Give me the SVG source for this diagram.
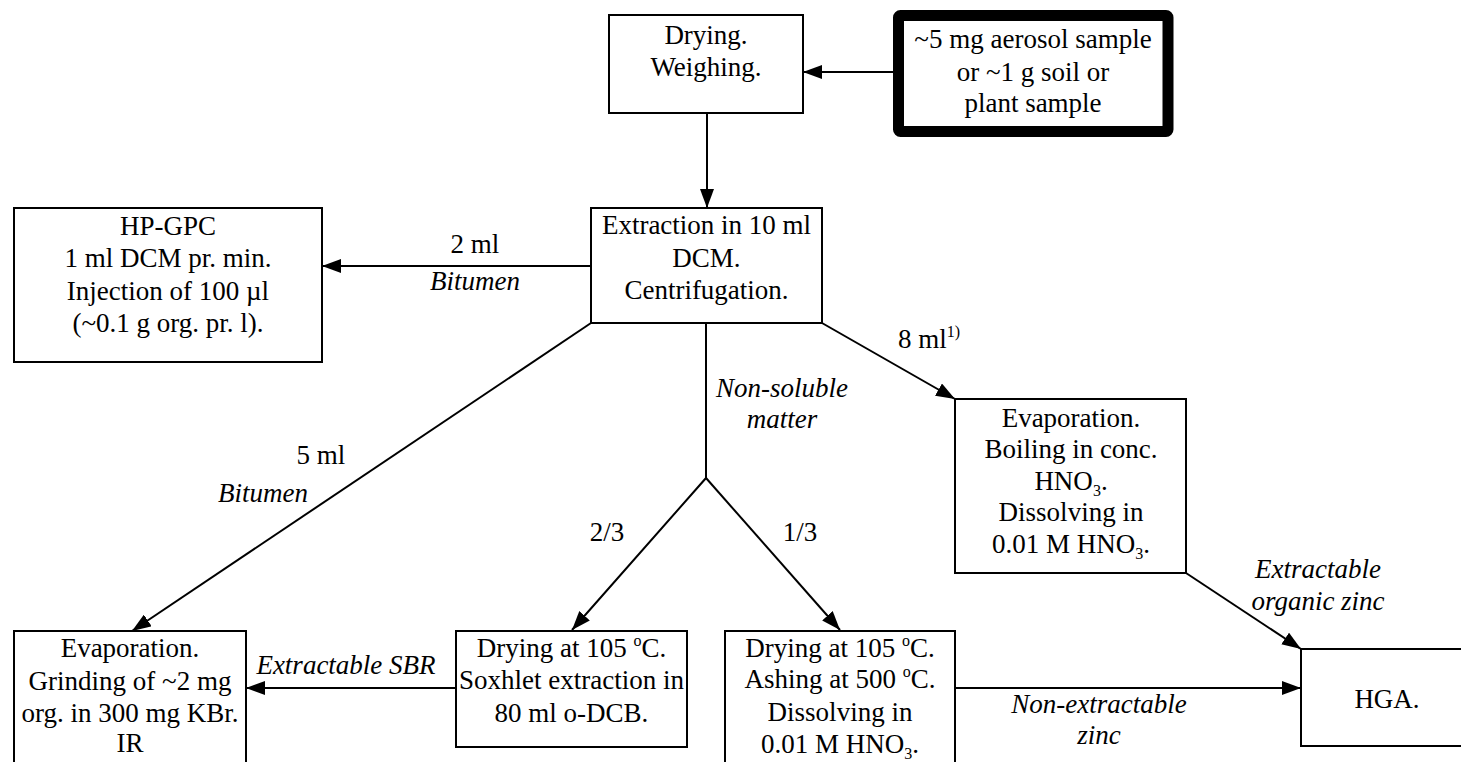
<svg xmlns="http://www.w3.org/2000/svg" width="1461" height="762" viewBox="0 0 1461 762">
<style>
text{font-family:"Liberation Serif","Times New Roman",serif;font-size:27px;fill:#000;text-anchor:middle}
.i{font-style:italic}
.box{fill:#fff;stroke:#000;stroke-width:2}
.thick{fill:#fff;stroke:#000;stroke-width:11;stroke-linejoin:round}
.c{fill:none;stroke:#000;stroke-width:2}
.sup{font-size:16px}
</style>
<defs>
<marker id="ah" markerUnits="userSpaceOnUse" markerWidth="19" markerHeight="14" refX="19" refY="7" orient="auto">
<path d="M0,0 L19,7 L0,14 z" fill="#000"/>
</marker>
</defs>
<rect width="1461" height="762" fill="#fff"/>
<g id="connectors">
<path class="c" d="M893,72 L803,72" marker-end="url(#ah)"/>
<path class="c" d="M707,113 L707,208" marker-end="url(#ah)"/>
<path class="c" d="M591,266 L322,266" marker-end="url(#ah)"/>
<path class="c" d="M591,323 L132,631" marker-end="url(#ah)"/>
<path class="c" d="M822,323 L955,399" marker-end="url(#ah)"/>
<path class="c" d="M706,323 L706,478 L572,630" marker-end="url(#ah)"/>
<path class="c" d="M706,478 L840,630" marker-end="url(#ah)"/>
<path class="c" d="M456,688 L246,688" marker-end="url(#ah)"/>
<path class="c" d="M955,688 L1301,688" marker-end="url(#ah)"/>
<path class="c" d="M1186,573 L1301,649" marker-end="url(#ah)"/>
<text x="475" y="253">2 ml</text>
<text class="i" x="475" y="290">Bitumen</text>
<text x="321" y="464">5 ml</text>
<text class="i" x="263" y="502">Bitumen</text>
<text class="i" x="782" y="397">Non-soluble</text>
<text class="i" x="782" y="428">matter</text>
<text x="898" y="348" style="text-anchor:start">8 ml<tspan class="sup" dy="-11">1)</tspan></text>
<text x="607" y="541">2/3</text>
<text x="800" y="541">1/3</text>
<text class="i" x="346" y="674">Extractable SBR</text>
<text class="i" x="1318" y="578">Extractable</text>
<text class="i" x="1318" y="610">organic zinc</text>
<text class="i" x="1099" y="713">Non-extractable</text>
<text class="i" x="1099" y="744">zinc</text>
</g>
<g id="sample">
<rect class="thick" x="898.5" y="15.5" width="269.5" height="116" rx="2"/>
<text x="1033" y="48">~5 mg aerosol sample</text>
<text x="1033" y="81">or ~1 g soil or</text>
<text x="1033" y="112">plant sample</text>
</g>
<g id="drying">
<rect class="box" x="609" y="15" width="194" height="98"/>
<text x="706" y="44">Drying.</text>
<text x="706" y="76">Weighing.</text>
</g>
<g id="extraction">
<rect class="box" x="591" y="208" width="231" height="115"/>
<text x="706.5" y="234">Extraction in 10 ml</text>
<text x="706.5" y="267">DCM.</text>
<text x="706.5" y="299">Centrifugation.</text>
</g>
<g id="hpgpc">
<rect class="box" x="14" y="208" width="308" height="154"/>
<text x="168" y="235">HP-GPC</text>
<text x="168" y="267">1 ml DCM pr. min.</text>
<text x="168" y="300">Injection of 100 µl</text>
<text x="168" y="332">(~0.1 g org. pr. l).</text>
</g>
<g id="evap-right">
<rect class="box" x="955" y="399" width="231" height="174"/>
<text x="1071" y="427">Evaporation.</text>
<text x="1071" y="458">Boiling in conc.</text>
<text x="1071" y="490">HNO<tspan class="sup" dy="6">3</tspan><tspan dy="-6">.</tspan></text>
<text x="1071" y="521">Dissolving in</text>
<text x="1071" y="553">0.01 M HNO<tspan class="sup" dy="6">3</tspan><tspan dy="-6">.</tspan></text>
</g>
<g id="evap-ir">
<rect class="box" x="14" y="631" width="232" height="150"/>
<text x="130" y="657">Evaporation.</text>
<text x="130" y="690">Grinding of ~2 mg</text>
<text x="130" y="722">org. in 300 mg KBr.</text>
<text x="130" y="752">IR</text>
</g>
<g id="soxhlet">
<rect class="box" x="456" y="631" width="231" height="116"/>
<text x="571.5" y="657">Drying at 105 <tspan class="sup" dy="-11">o</tspan><tspan dy="11">C.</tspan></text>
<text x="571.5" y="689">Soxhlet extraction in</text>
<text x="571.5" y="722">80 ml o-DCB.</text>
</g>
<g id="ashing">
<rect class="box" x="725" y="631" width="230" height="150"/>
<text x="840" y="657">Drying at 105 <tspan class="sup" dy="-11">o</tspan><tspan dy="11">C.</tspan></text>
<text x="840" y="688">Ashing at 500 <tspan class="sup" dy="-11">o</tspan><tspan dy="11">C.</tspan></text>
<text x="840" y="721">Dissolving in</text>
<text x="840" y="753">0.01 M HNO<tspan class="sup" dy="6">3</tspan><tspan dy="-6">.</tspan></text>
</g>
<g id="hga">
<rect class="box" x="1301" y="649" width="175" height="97"/>
<text x="1387" y="708">HGA.</text>
</g>
</svg>
